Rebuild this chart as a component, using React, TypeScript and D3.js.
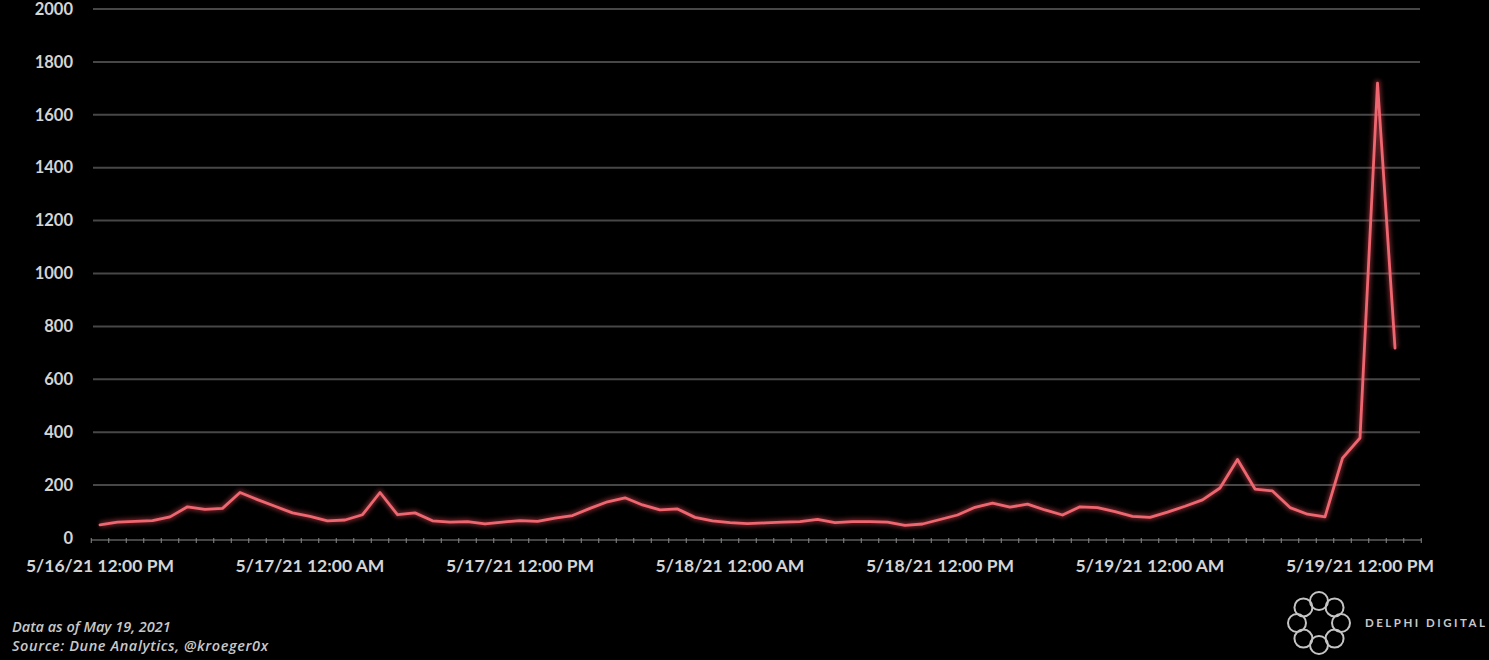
import React from "react";
import * as d3 from "d3";

// Hourly values starting 5/16/21 12:00 PM
const startTime = new Date(2021, 4, 16, 12, 0, 0);
const values: number[] = [
  50, 60, 63, 66, 80, 118, 108, 112, 172, 145, 120, 95,
  82, 65, 68, 88, 172, 88, 95, 65, 60, 62, 53, 60,
  66, 63, 75, 85, 112, 137, 152, 125, 106, 110, 78, 65,
  58, 54, 57, 60, 62, 70, 58, 62, 62, 60, 48, 53,
  70, 87, 116, 132, 117, 128, 106, 87, 118, 115, 100, 82,
  78, 98, 120, 144, 189, 297, 185, 178, 115, 90, 80, 302,
  378, 1720, 718,
];
const yTicks: number[] = [0, 200, 400, 600, 800, 1000, 1200, 1400, 1600, 1800, 2000];
const footerLines: string[] = ["Data as of May 19, 2021", "Source: Dune Analytics, @kroeger0x"];
const brandText = "DELPHI DIGITAL";

const W = 1489;
const H = 660;

export default function App() {
  const times = values.map((_, i) => d3.timeHour.offset(startTime, i));
  const domainStart = d3.timeMinute.offset(startTime, -30);
  const domainEnd = d3.timeMinute.offset(startTime, 75 * 60 + 30);
  const x = d3.scaleTime().domain([domainStart, domainEnd]).range([91.25, 1421.25]);
  const y = d3.scaleLinear().domain([0, 2000]).range([538, 9]);

  const majorTicks = d3.timeHour.every(12)!.range(startTime, d3.timeMinute.offset(domainEnd, 1));
  const minorTicks = d3.range(0, 77).map((k) => d3.timeMinute.offset(domainStart, 60 * k));
  const fmt = d3.timeFormat("%-m/%-d/%y %-I:%M %p");

  const line = d3
    .line<number>()
    .x((_, i) => x(times[i]))
    .y((d) => y(d))
    .curve(d3.curveLinear);
  const path = line(values) || "";

  const logoCx = 1319;
  const logoCy = 623;
  const lobes = d3.range(8).map((k) => (k * Math.PI * 2) / 8);

  const axisFont = "Lato, 'Open Sans', sans-serif";

  return (
    <svg
      width={W}
      height={H}
      style={{ position: "absolute", left: 0, top: 0, display: "block", background: "#000" }}
    >
      <defs>
        <filter id="glow" x="-5%" y="-5%" width="110%" height="110%">
          <feGaussianBlur stdDeviation="2.2" />
        </filter>
      </defs>
      <rect x={0} y={0} width={W} height={H} fill="#000" />
      {/* gridlines */}
      {yTicks
        .filter((t) => t > 0)
        .map((t) => (
          <line key={t} x1={93} x2={1420} y1={y(t)} y2={y(t)} stroke="#474747" strokeWidth={2} />
        ))}
      {/* y labels */}
      {yTicks.map((t) => (
        <text
          key={"yl" + t}
          x={73}
          y={y(t)}
          dy="0.35em"
          textAnchor="end"
          fill="#d4d4d4"
          fontFamily={axisFont}
          fontWeight={700}
          fontSize={16.5}
        >
          {t}
        </text>
      ))}
      {/* x axis */}
      <line x1={x(domainStart)} x2={x(domainEnd)} y1={540} y2={540} stroke="#8a8a8a" strokeWidth={1.2} />
      {minorTicks.map((t, k) => (
        <line key={"mt" + k} x1={x(t)} x2={x(t)} y1={538} y2={543} stroke="#8a8a8a" strokeWidth={1} />
      ))}
      {majorTicks.map((t, k) => (
        <text
          key={"xl" + k}
          x={x(t)}
          y={572}
          textAnchor="middle"
          fill="#d4d4d4"
          fontFamily={axisFont}
          fontWeight={700}
          fontSize={17.5}
        >
          {fmt(t)}
        </text>
      ))}
      {/* series line */}
      <path d={path} fill="none" stroke="#e8505c" strokeWidth={6} strokeOpacity={0.45} filter="url(#glow)" strokeLinejoin="round" />
      <path d={path} fill="none" stroke="#ee6670" strokeWidth={2.8} strokeLinejoin="round" strokeLinecap="round" />
      {/* footer */}
      {footerLines.map((s, k) => (
        <text
          key={"f" + k}
          x={12}
          y={632 + k * 19}
          fill="#c8c8c8"
          fontFamily="'Open Sans', Lato, sans-serif"
          fontStyle="italic"
          fontWeight={600}
          fontSize={14.5}
          letterSpacing={k === 1 ? 0.6 : 0}
        >
          {s}
        </text>
      ))}
      {/* logo */}
      <g stroke="#c4c4c4" strokeWidth={2} fill="none">
        {lobes.map((a, k) => (
          <circle key={"lb" + k} cx={logoCx + 22 * Math.cos(a)} cy={logoCy + 22 * Math.sin(a)} r={9} />
        ))}
      </g>
      <text
        x={1365}
        y={627}
        fill="#c8c8c8"
        fontFamily={axisFont}
        fontWeight={700}
        fontSize={11.5}
        letterSpacing={2.5}
      >
        {brandText}
      </text>
    </svg>
  );
}
